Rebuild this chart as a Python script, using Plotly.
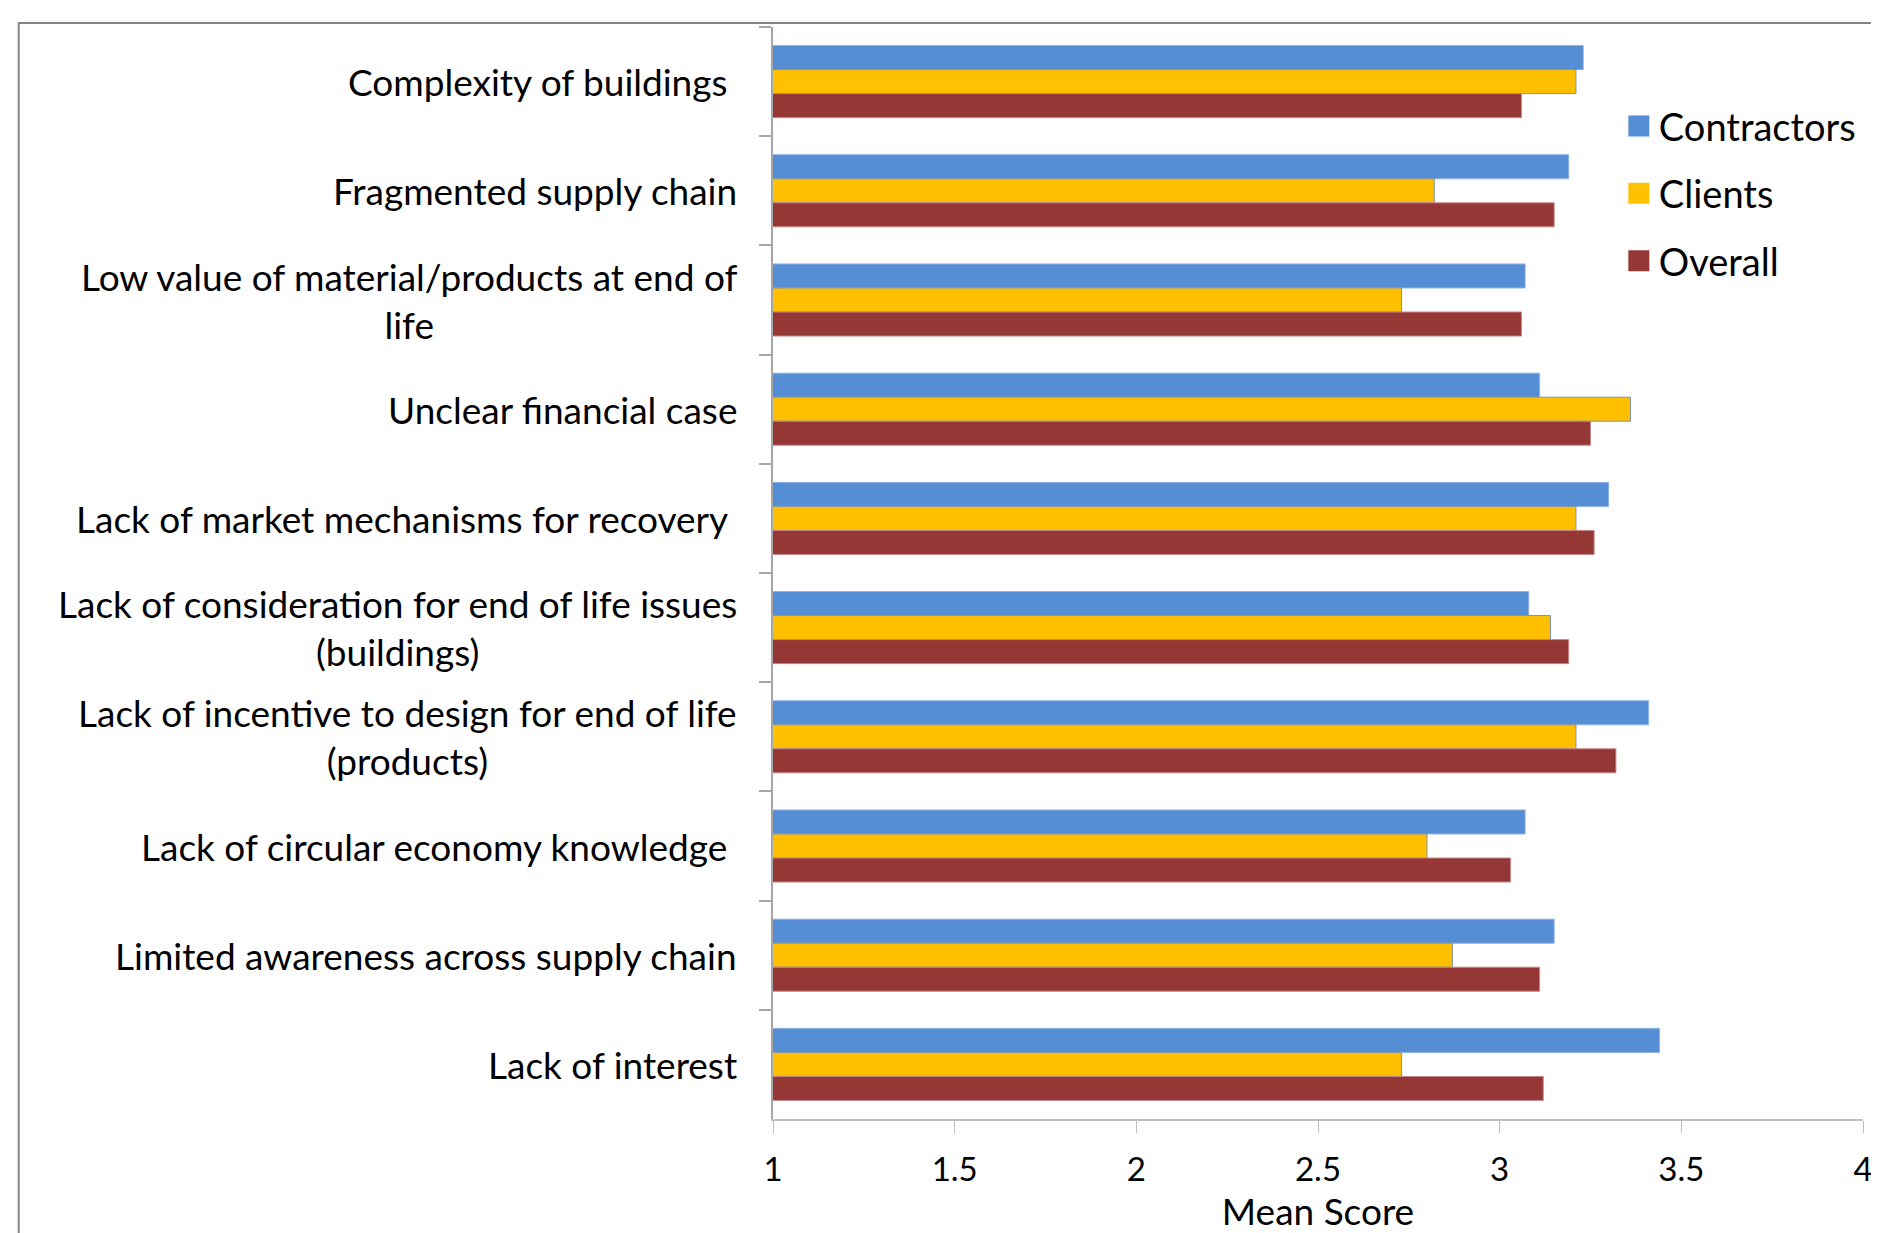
import plotly.graph_objects as go

categories = [
    "Complexity of buildings ",
    "Fragmented supply chain",
    "Low value of material/products at end of<br>life",
    "Unclear financial case",
    "Lack of market mechanisms for recovery ",
    "Lack of consideration for end of life issues<br>(buildings)",
    "Lack of incentive to design for end of life<br>(products)",
    "Lack of circular economy knowledge ",
    "Limited awareness across supply chain",
    "Lack of interest",
]
contractors = [3.23, 3.19, 3.07, 3.11, 3.30, 3.08, 3.41, 3.07, 3.15, 3.44]
clients = [3.21, 2.82, 2.73, 3.36, 3.21, 3.14, 3.21, 2.80, 2.87, 2.73]
overall = [3.06, 3.15, 3.06, 3.25, 3.26, 3.19, 3.32, 3.03, 3.11, 3.12]
series_names = ["Contractors", "Clients", "Overall"]
x_ticks = [1, 1.5, 2, 2.5, 3, 3.5, 4]
x_title = "Mean Score"

FONT = "Lato, 'Open Sans', sans-serif"
FS_LABEL = 37
FS_TICK = 33
FS_LEGEND = 38
fills = ["#558ED5", "#FFC000", "#953735"]
edges = ["#8DB3E2", "#7F92A8", "#C4898A"]

fig = go.Figure()
for name, vals, fc, ec in zip(series_names, [contractors, clients, overall], fills, edges):
    fig.add_trace(go.Bar(
        y=categories, x=vals, orientation="h", name=name,
        marker=dict(color=fc, line=dict(color=ec, width=1)),
        showlegend=False,
    ))
for i, (name, fc) in enumerate(zip(series_names, fills)):
    fig.add_trace(go.Scatter(
        x=[None], y=[None], mode="markers", name=name, legendgroup=str(i),
        marker=dict(symbol="square", size=16, color=fc, line=dict(color=fc, width=5)),
    ))

# category labels (centered multi-line, right-anchored next to axis)
for c in categories:
    txt = c.rstrip(" ")
    if c.endswith(" "):
        txt = txt + "\u00a0"
    fig.add_annotation(
        x=0, xref="paper", y=c, yref="y", text=txt, showarrow=False,
        xanchor="right", yanchor="middle", align="center", xshift=-34,
        font=dict(family=FONT, size=FS_LABEL, color="black"),
    )

# outer chart frame
fig.add_shape(type="rect", xref="paper", yref="paper",
              x0=-0.692, x1=1.03, y0=-0.13, y1=1.0037,
              line=dict(color="#858585", width=2), fillcolor="rgba(0,0,0,0)", layer="below")

fig.update_layout(
    width=1871, height=1233,
    margin=dict(l=765, r=16, t=19, b=122),
    paper_bgcolor="white", plot_bgcolor="white",
    barmode="group", bargap=0.34, bargroupgap=0,
    font=dict(family=FONT, size=FS_TICK, color="black"),
    legend=dict(
        x=0.776, xanchor="left", y=0.938, yanchor="top",
        traceorder="grouped", tracegroupgap=15,
        font=dict(family=FONT, size=FS_LEGEND, color="black"),
        bgcolor="rgba(0,0,0,0)",
    ),
    xaxis=dict(
        range=[1, 4], tickvals=x_ticks, ticktext=[("%g" % v) for v in x_ticks],
        showgrid=False, zeroline=False, automargin=False,
        showline=True, linecolor="#BFBFBF", linewidth=2,
        ticks="outside", ticklen=12, tickcolor="#BFBFBF", tickwidth=1,
        ticklabelstandoff=8,
        tickfont=dict(family=FONT, size=FS_TICK, color="black"),
        title=dict(text=x_title, font=dict(family=FONT, size=FS_LABEL, color="black"), standoff=12),
    ),
    yaxis=dict(
        categoryorder="array", categoryarray=categories, autorange="reversed",
        showticklabels=False, showgrid=False, zeroline=False, automargin=False,
        showline=True, linecolor="#A6A6A6", linewidth=2,
        ticks="outside", ticklen=12, tickcolor="#A6A6A6", tickwidth=2,
        tickson="boundaries",
    ),
)

fig.write_html("out.html")
